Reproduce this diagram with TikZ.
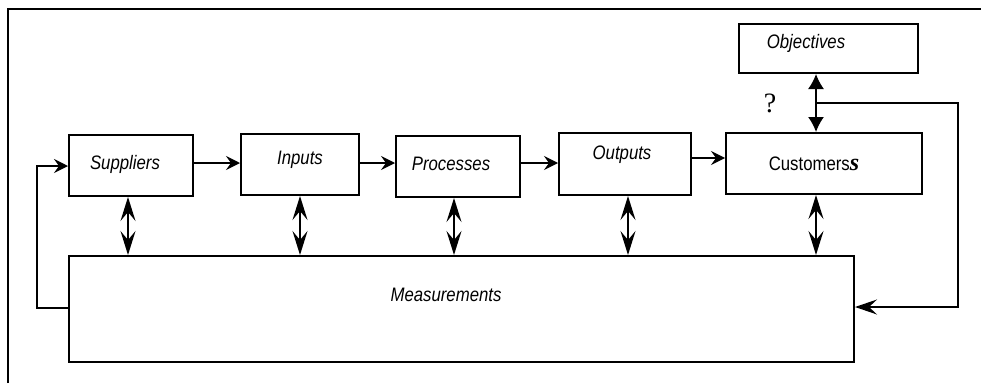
\documentclass[tikz,border=0pt]{standalone}
\usepackage{fontspec}
\usepackage{graphicx}
\setmainfont{Liberation Sans}
\newfontfamily\serifface{Liberation Serif}
\usetikzlibrary{arrows.meta}
% narrow sans labels
\newcommand{\narrowtext}[1]{\scalebox{0.86}[1]{#1}}
\begin{document}
\begin{tikzpicture}[x=1pt,y=-1pt,
  box/.style={draw,line width=2pt,rectangle,inner sep=0pt},
  lbl/.style={font=\fontsize{19.5}{22}\selectfont\itshape,inner sep=0pt},
  conn/.style={line width=1.5pt},
  fwd/.style={conn,-{Stealth[length=14pt,width=14pt,inset=5pt]}},
  back/.style={conn,-{Stealth[length=22pt,width=15pt,inset=8pt]}},
  dbl/.style={conn,{Stealth[length=24pt,width=15pt,inset=9pt]}-{Stealth[length=24pt,width=15pt,inset=9pt]}},
  tri/.style={conn,{Latex[length=15pt,width=16pt]}-{Latex[length=15pt,width=16pt]}}]
\useasboundingbox (0,0) rectangle (981,383);
% outer frame: top and left edges
\draw[line width=1.5pt] (8,383) -- (8,9) -- (981,9);

% boxes
\node[box,minimum width=124pt,minimum height=61pt] (sup) at (131,165.5) {};
\node[box,minimum width=118pt,minimum height=61pt] (inp) at (300,164.5) {};
\node[box,minimum width=124pt,minimum height=61pt] (pro) at (458,166.5) {};
\node[box,minimum width=132pt,minimum height=62pt] (out) at (625,164) {};
\node[box,minimum width=196pt,minimum height=61pt] (cus) at (824,163.5) {};
\node[box,minimum width=179pt,minimum height=49pt] (obj) at (828.5,48.5) {};
\node[box,minimum width=785pt,minimum height=106pt] (meas) at (461.5,309) {};

% labels
\node[lbl] (supT) at (125,164) {\narrowtext{Suppliers}};
\node[lbl] (inpT) at (300,160) {\narrowtext{Inputs}};
\node[lbl] (proT) at (451,164) {\narrowtext{Processes}};
\node[lbl] (outT) at (622,155) {\narrowtext{Outputs}};
\node[lbl] (objT) at (806,43) {\narrowtext{Objectives}};
\node[lbl] (measT) at (446,295) {\narrowtext{Measurements}};
\node[inner sep=0pt] (cusT) at (814,164) {\narrowtext{\fontsize{19.5}{22}\selectfont Customers}\serifface\fontsize{24}{26}\selectfont\bfseries\itshape s};
\node[inner sep=0pt,font=\serifface\fontsize{28}{30}\selectfont] (q) at (770,103) {?};

% flow along the chain
\draw[fwd] (sup.east |- 0,163) -- (inp.west |- 0,163);
\draw[fwd] (inp.east |- 0,163) -- (pro.west |- 0,163);
\draw[fwd] (pro.east |- 0,163) -- (out.west |- 0,163);
\draw[fwd] (out.east |- 0,158) -- (cus.west |- 0,158);

% two-way links to measurements
\coordinate (xs) at (128,0);
\coordinate (xi) at (300,0);
\coordinate (xp) at (454,0);
\coordinate (xo) at (628,0);
\coordinate (xc) at (816,0);
\draw[dbl] (sup.south -| xs) -- (meas.north -| xs);
\draw[dbl] (inp.south -| xi) -- (meas.north -| xi);
\draw[dbl] (pro.south -| xp) -- (meas.north -| xp);
\draw[dbl] (out.south -| xo) -- (meas.north -| xo);
\draw[dbl] (cus.south -| xc) -- (meas.north -| xc);

% objectives and customers
\draw[tri] (obj.south -| xc) -- (cus.north -| xc);
\coordinate (fb) at (816,103);
\draw[back] (fb) -- (958,103) -- (958,307) -- (meas.east |- 0,307);

% loop back to suppliers
\draw[fwd] (meas.west |- 0,308) -- (37,308) -- (37,166) -- (sup.west |- 0,166);
\end{tikzpicture}
\end{document}
